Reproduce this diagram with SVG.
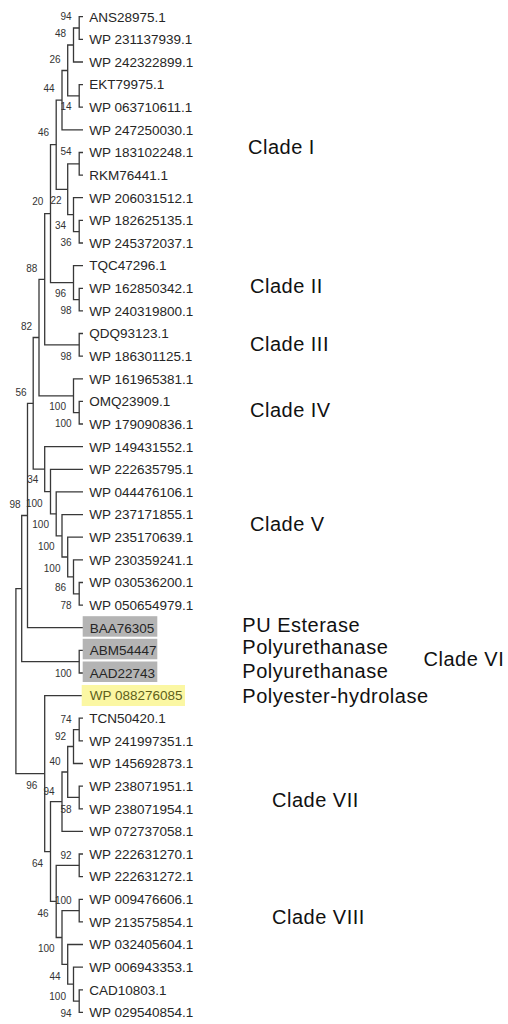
<svg xmlns="http://www.w3.org/2000/svg" width="508" height="1024" viewBox="0 0 508 1024">
<style>
text{font-family:"Liberation Sans",Arial,sans-serif}
.lf{font-size:13.5px;fill:#262626}
.bs{font-size:10px;fill:#333;text-anchor:end}
.cl{font-size:20px;fill:#111;letter-spacing:0.5px}
.br{fill:none;stroke:#383838;stroke-width:1.3}
.hg{fill:#b4b4b4}
.hy{fill:#fbf7a3}
</style>
<rect width="508" height="1024" fill="#fff"/>
<g id="connectors" class="br">
<path d="M83 16.7H79.2V39.3H83"/>
<path d="M79.2 28H73.5V62H83"/>
<path d="M83 84.6H79.2V107.2H83"/>
<path d="M73.5 45H67.7V95.9H79.2"/>
<path d="M67.7 70.5H62V129.9H83"/>
<path d="M83 152.5H79.2V175.1H83"/>
<path d="M83 220.4H79.2V243H83"/>
<path d="M83 197.7H73.5V231.7H79.2"/>
<path d="M79.2 163.8H67.7V214.7H73.5"/>
<path d="M62 100.2H56.2V189.3H67.7"/>
<path d="M83 288.3H79.2V310.9H83"/>
<path d="M83 265.6H73.5V299.6H79.2"/>
<path d="M56.2 144.7H50.5V282.6H73.5"/>
<path d="M83 333.5H79.2V356.2H83"/>
<path d="M50.5 213.7H44.7V344.8H79.2"/>
<path d="M83 401.4H79.2V424H83"/>
<path d="M83 378.8H73.5V412.7H79.2"/>
<path d="M44.7 279.3H39V395.8H73.5"/>
<path d="M83 582.5H79.2V605.1H83"/>
<path d="M83 559.8H73.5V593.8H79.2"/>
<path d="M83 537.2H67.7V576.8H73.5"/>
<path d="M83 514.6H62V557H67.7"/>
<path d="M83 491.9H56.2V535.8H62"/>
<path d="M83 469.3H50.5V513.9H56.2"/>
<path d="M83 446.7H44.7V491.6H50.5"/>
<path d="M39 337.5H33.2V469.1H44.7"/>
<path d="M33.2 403.3H27.5V627.7H83"/>
<path d="M83 650.3H79.2V673H83"/>
<path d="M27.5 515.5H21.7V661.7H79.2"/>
<path d="M83 718.2H79.2V740.9H83"/>
<path d="M79.2 729.6H73.5V763.5H83"/>
<path d="M83 786.1H79.2V808.8H83"/>
<path d="M73.5 746.5H67.7V797.4H79.2"/>
<path d="M67.7 772H62V831.4H83"/>
<path d="M83 854H79.2V876.6H83"/>
<path d="M83 899.3H79.2V921.9H83"/>
<path d="M83 989.8H79.2V1012.4H83"/>
<path d="M83 967.2H73.5V1001.1H79.2"/>
<path d="M83 944.5H67.7V984.1H73.5"/>
<path d="M79.2 910.6H62V964.3H67.7"/>
<path d="M79.2 865.3H56.2V937.5H62"/>
<path d="M62 801.7H50.5V901.4H56.2"/>
<path d="M83 695.6H44.7V851.6H50.5"/>
<path d="M21.7 588.6H15.9V773.6H44.7"/>
</g>
<g id="bootstrap" class="bs">
<text x="71.7" y="20.2">94</text>
<text x="66" y="36.8">48</text>
<text x="60.5" y="62.8">26</text>
<text x="54.7" y="91.8">44</text>
<text x="71.7" y="110.2">14</text>
<text x="49" y="136.2">46</text>
<text x="71.7" y="155.2">54</text>
<text x="43.3" y="205.2">20</text>
<text x="61.5" y="203.5">22</text>
<text x="66" y="229.2">34</text>
<text x="71.7" y="245.8">36</text>
<text x="37.3" y="271.5">88</text>
<text x="66" y="296.8">96</text>
<text x="71.7" y="313.5">98</text>
<text x="32" y="330.2">82</text>
<text x="71.7" y="359.5">98</text>
<text x="26.5" y="395.5">56</text>
<text x="66" y="410">100</text>
<text x="71.7" y="426.8">100</text>
<text x="38.3" y="483">34</text>
<text x="20.5" y="507.5">98</text>
<text x="42.7" y="506.5">100</text>
<text x="49" y="527.5">100</text>
<text x="54.7" y="549.5">100</text>
<text x="60.5" y="571.8">100</text>
<text x="66" y="591.2">86</text>
<text x="71.7" y="608.5">78</text>
<text x="71.7" y="676.5">100</text>
<text x="71.7" y="722.5">74</text>
<text x="66" y="740.2">92</text>
<text x="60.5" y="765.2">40</text>
<text x="37.3" y="788.5">96</text>
<text x="54.7" y="794.7">94</text>
<text x="71.7" y="812.8">58</text>
<text x="71.7" y="858.8">92</text>
<text x="43" y="866.5">64</text>
<text x="71.7" y="903.5">100</text>
<text x="48.5" y="916.5">46</text>
<text x="54.7" y="952.2">100</text>
<text x="60.5" y="979.7">44</text>
<text x="66" y="999.7">100</text>
<text x="71.7" y="1016.5">94</text>
</g>
<g id="leaves" class="lf">
<g id="n0"><text x="89.3" y="21.5">ANS28975.1</text></g>
<g id="n1"><text x="89.3" y="44.1">WP 231137939.1</text></g>
<g id="n2"><text x="89.3" y="66.8">WP 242322899.1</text></g>
<g id="n3"><text x="89.3" y="89.4">EKT79975.1</text></g>
<g id="n4"><text x="89.3" y="112">WP 063710611.1</text></g>
<g id="n5"><text x="89.3" y="134.7">WP 247250030.1</text></g>
<g id="n6"><text x="89.3" y="157.3">WP 183102248.1</text></g>
<g id="n7"><text x="89.3" y="179.9">RKM76441.1</text></g>
<g id="n8"><text x="89.3" y="202.5">WP 206031512.1</text></g>
<g id="n9"><text x="89.3" y="225.2">WP 182625135.1</text></g>
<g id="n10"><text x="89.3" y="247.8">WP 245372037.1</text></g>
<g id="n11"><text x="89.3" y="270.4">TQC47296.1</text></g>
<g id="n12"><text x="89.3" y="293.1">WP 162850342.1</text></g>
<g id="n13"><text x="89.3" y="315.7">WP 240319800.1</text></g>
<g id="n14"><text x="89.3" y="338.3">QDQ93123.1</text></g>
<g id="n15"><text x="89.3" y="361">WP 186301125.1</text></g>
<g id="n16"><text x="89.3" y="383.6">WP 161965381.1</text></g>
<g id="n17"><text x="89.3" y="406.2">OMQ23909.1</text></g>
<g id="n18"><text x="89.3" y="428.8">WP 179090836.1</text></g>
<g id="n19"><text x="89.3" y="451.5">WP 149431552.1</text></g>
<g id="n20"><text x="89.3" y="474.1">WP 222635795.1</text></g>
<g id="n21"><text x="89.3" y="496.7">WP 044476106.1</text></g>
<g id="n22"><text x="89.3" y="519.4">WP 237171855.1</text></g>
<g id="n23"><text x="89.3" y="542">WP 235170639.1</text></g>
<g id="n24"><text x="89.3" y="564.6">WP 230359241.1</text></g>
<g id="n25"><text x="89.3" y="587.3">WP 030536200.1</text></g>
<g id="n26"><text x="89.3" y="609.9">WP 050654979.1</text></g>
<g id="n27"><rect class="hg" x="82.7" y="616.2" width="74.6" height="20.5"/><text x="89.8" y="632.5">BAA76305</text></g>
<g id="n28"><rect class="hg" x="82.7" y="638.8" width="74.6" height="20.5"/><text x="89.8" y="655.1">ABM54447</text></g>
<g id="n29"><rect class="hg" x="82.7" y="661.5" width="74.6" height="20.5"/><text x="89.8" y="677.8">AAD22743</text></g>
<g id="n30"><rect class="hy" x="81.7" y="685" width="103.3" height="21"/><text x="89.8" y="700.4" fill="#5f5f1a">WP 088276085</text></g>
<g id="n31"><text x="89.3" y="723">TCN50420.1</text></g>
<g id="n32"><text x="89.3" y="745.7">WP 241997351.1</text></g>
<g id="n33"><text x="89.3" y="768.3">WP 145692873.1</text></g>
<g id="n34"><text x="89.3" y="790.9">WP 238071951.1</text></g>
<g id="n35"><text x="89.3" y="813.6">WP 238071954.1</text></g>
<g id="n36"><text x="89.3" y="836.2">WP 072737058.1</text></g>
<g id="n37"><text x="89.3" y="858.8">WP 222631270.1</text></g>
<g id="n38"><text x="89.3" y="881.4">WP 222631272.1</text></g>
<g id="n39"><text x="89.3" y="904.1">WP 009476606.1</text></g>
<g id="n40"><text x="89.3" y="926.7">WP 213575854.1</text></g>
<g id="n41"><text x="89.3" y="949.3">WP 032405604.1</text></g>
<g id="n42"><text x="89.3" y="972">WP 006943353.1</text></g>
<g id="n43"><text x="89.3" y="994.6">CAD10803.1</text></g>
<g id="n44"><text x="89.3" y="1017.2">WP 029540854.1</text></g>
</g>
<g id="labels" class="cl">
<g id="cladeI"><text x="248" y="154.2">Clade I</text></g>
<g id="cladeII"><text x="250" y="293.2">Clade II</text></g>
<g id="cladeIII"><text x="250" y="351.2">Clade III</text></g>
<g id="cladeIV"><text x="250" y="417.2">Clade IV</text></g>
<g id="cladeV"><text x="250" y="531.2">Clade V</text></g>
<g id="puEsterase"><text x="242.3" y="632.2">PU Esterase</text></g>
<g id="polyurethanase1"><text x="242.3" y="654">Polyurethanase</text></g>
<g id="cladeVI"><text x="423.5" y="665.7">Clade VI</text></g>
<g id="polyurethanase2"><text x="242.3" y="678.2">Polyurethanase</text></g>
<g id="polyesterHydrolase"><text x="242.3" y="703.2">Polyester-hydrolase</text></g>
<g id="cladeVII"><text x="272" y="807.2">Clade VII</text></g>
<g id="cladeVIII"><text x="272" y="924.2">Clade VIII</text></g>
</g>
</svg>
